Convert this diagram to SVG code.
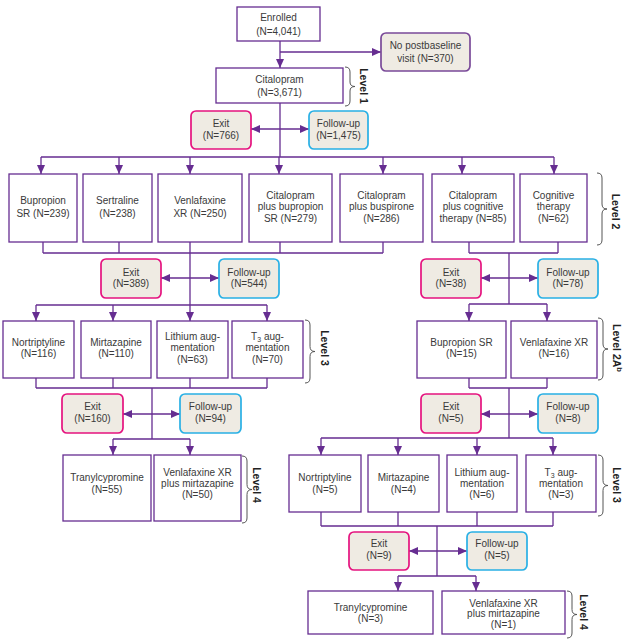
<svg xmlns="http://www.w3.org/2000/svg" width="627" height="641" viewBox="0 0 627 641">
<defs>
<style>
.b{fill:#fff;stroke:#662d91;stroke-width:1.3}
.ex{fill:#efebe3;stroke:#e5137f;stroke-width:1.7}
.fu{fill:#efebe3;stroke:#29b0e5;stroke-width:1.7}
.np{fill:#efebe3;stroke:#7a4a99;stroke-width:1.7}
.t{font-family:"Liberation Sans",Arial,sans-serif;font-size:10px;fill:#3a3a3a;text-anchor:middle}
.lv{font-family:"Liberation Sans",Arial,sans-serif;font-size:10.5px;font-weight:bold;fill:#222;text-anchor:middle}
.c{stroke:#662d91;stroke-width:1.3;fill:none}
.a{stroke:#662d91;stroke-width:1.3;fill:none;marker-end:url(#ah)}
.d{stroke:#662d91;stroke-width:1.3;fill:none;marker-end:url(#ah);marker-start:url(#ah)}
.br{stroke:#555;stroke-width:1;fill:none}
</style>
<marker id="ah" markerUnits="userSpaceOnUse" markerWidth="9" markerHeight="8" refX="9" refY="4" orient="auto-start-reverse"><path d="M0,0 L9,4 L0,8 z" fill="#662d91"/></marker>
</defs>

<g id="connectors">
<path class="a" d="M280,41 V68"/>
<path class="a" d="M280,52 H381"/>
<path class="c" d="M280,103 V157 M41,157 H554"/>
<path class="d" d="M251,129 H309"/>
<path class="a" d="M41,157 V174"/>
<path class="a" d="M119,157 V174"/>
<path class="a" d="M190,157 V174"/>
<path class="a" d="M279,157 V174"/>
<path class="a" d="M383,157 V174"/>
<path class="a" d="M462,157 V174"/>
<path class="a" d="M554,157 V174"/>
<path class="c" d="M43,242 V253 M119,242 V253 M190,242 V253 M280,242 V253 M383,242 V253 M43,253 H383 M190,253 V305"/>
<path class="d" d="M161,278 H219"/>
<path class="c" d="M36,305 H267"/>
<path class="a" d="M36,305 V321"/>
<path class="a" d="M113,305 V321"/>
<path class="a" d="M190,305 V321"/>
<path class="a" d="M267,305 V321"/>
<path class="c" d="M36,378 V388 M113,378 V388 M190,378 V388 M267,378 V388 M36,388 H267 M152,388 V439 M113,439 H190"/>
<path class="d" d="M123,414 H180"/>
<path class="a" d="M113,439 V455"/>
<path class="a" d="M190,439 V455"/>
<path class="c" d="M469,242 V253 M558,242 V253 M469,253 H558 M509,253 V304 M469,304 H547"/>
<path class="d" d="M481,278 H538"/>
<path class="a" d="M469,304 V321"/>
<path class="a" d="M547,304 V321"/>
<path class="c" d="M469,378 V388 M547,378 V388 M469,388 H547 M509,388 V438 M321,438 H553"/>
<path class="d" d="M481,414 H538"/>
<path class="a" d="M321,438 V455"/>
<path class="a" d="M398,438 V455"/>
<path class="a" d="M477,438 V455"/>
<path class="a" d="M553,438 V455"/>
<path class="c" d="M321,512 V526 M398,512 V526 M477,512 V526 M553,512 V526 M321,526 H553 M437,526 V576 M398,576 H476"/>
<path class="d" d="M409,551 H467"/>
<path class="a" d="M398,576 V591"/>
<path class="a" d="M476,576 V591"/>
</g>

<g id="enrolled"><rect class="b" x="237" y="7" width="83" height="34"/><text class="t" x="278.5" y="21">Enrolled</text><text class="t" x="278.5" y="35">(N=4,041)</text></g>
<g id="nopost"><rect class="np" x="381" y="33" width="89" height="38" rx="5"/><text class="t" x="425.5" y="48.5">No postbaseline</text><text class="t" x="425.5" y="61.5">visit (N=370)</text></g>
<g id="citalopram"><rect class="b" x="216" y="68" width="127" height="35"/><text class="t" x="279.5" y="83">Citalopram</text><text class="t" x="279.5" y="96">(N=3,671)</text></g>
<g id="exit1"><rect class="ex" x="191" y="111" width="60" height="38" rx="5"/><text class="t" x="221" y="126.5">Exit</text><text class="t" x="221" y="138.5">(N=766)</text></g>
<g id="fu1"><rect class="fu" x="309" y="111" width="59" height="38" rx="5"/><text class="t" x="338.5" y="126.5">Follow-up</text><text class="t" x="338.5" y="138.5">(N=1,475)</text></g>

<g id="l2-bupropion"><rect class="b" x="9" y="174" width="68" height="68"/><text class="t" x="43" y="204">Bupropion</text><text class="t" x="43" y="216.5">SR (N=239)</text></g>
<g id="l2-sertraline"><rect class="b" x="83" y="174" width="69" height="68"/><text class="t" x="117.5" y="204">Sertraline</text><text class="t" x="117.5" y="216.5">(N=238)</text></g>
<g id="l2-venlafaxine"><rect class="b" x="158" y="174" width="84" height="68"/><text class="t" x="200" y="204">Venlafaxine</text><text class="t" x="200" y="216.5">XR (N=250)</text></g>
<g id="l2-citbup"><rect class="b" x="249" y="174" width="83" height="68"/><text class="t" x="290.5" y="198.5">Citalopram</text><text class="t" x="290.5" y="210">plus bupropion</text><text class="t" x="290.5" y="221.5">SR (N=279)</text></g>
<g id="l2-citbus"><rect class="b" x="340" y="174" width="83" height="68"/><text class="t" x="381.5" y="198.5">Citalopram</text><text class="t" x="381.5" y="210">plus buspirone</text><text class="t" x="381.5" y="221.5">(N=286)</text></g>
<g id="l2-citcog"><rect class="b" x="432" y="174" width="82" height="68"/><text class="t" x="473" y="198.5">Citalopram</text><text class="t" x="473" y="210">plus cognitive</text><text class="t" x="473" y="221.5">therapy (N=85)</text></g>
<g id="l2-cog"><rect class="b" x="520" y="174" width="67" height="68"/><text class="t" x="553.5" y="198.5">Cognitive</text><text class="t" x="553.5" y="210">therapy</text><text class="t" x="553.5" y="221.5">(N=62)</text></g>

<g id="exit2"><rect class="ex" x="101" y="259" width="60" height="39" rx="5"/><text class="t" x="131" y="275.5">Exit</text><text class="t" x="131" y="287">(N=389)</text></g>
<g id="fu2"><rect class="fu" x="219" y="259" width="60" height="39" rx="5"/><text class="t" x="249" y="275.5">Follow-up</text><text class="t" x="249" y="287">(N=544)</text></g>
<g id="exit3"><rect class="ex" x="421" y="259" width="60" height="39" rx="5"/><text class="t" x="451" y="275.5">Exit</text><text class="t" x="451" y="287">(N=38)</text></g>
<g id="fu3"><rect class="fu" x="538" y="259" width="60" height="39" rx="5"/><text class="t" x="568" y="275.5">Follow-up</text><text class="t" x="568" y="287">(N=78)</text></g>

<g id="l3-nortriptyline"><rect class="b" x="3" y="321" width="71" height="57"/><text class="t" x="38.5" y="345.5">Nortriptyline</text><text class="t" x="38.5" y="357">(N=116)</text></g>
<g id="l3-mirtazapine"><rect class="b" x="81" y="321" width="70" height="57"/><text class="t" x="116" y="345.5">Mirtazapine</text><text class="t" x="116" y="357">(N=110)</text></g>
<g id="l3-lithium"><rect class="b" x="157" y="321" width="71" height="57"/><text class="t" x="192.5" y="339.5">Lithium aug-</text><text class="t" x="192.5" y="351">mentation</text><text class="t" x="192.5" y="362.5">(N=63)</text></g>
<g id="l3-t3"><rect class="b" x="232" y="321" width="71" height="57"/><text class="t" x="267.5" y="339.5">T<tspan font-size="7" dy="2.5">3</tspan><tspan dy="-2.5"> aug-</tspan></text><text class="t" x="267.5" y="351">mentation</text><text class="t" x="267.5" y="362.5">(N=70)</text></g>

<g id="exit4"><rect class="ex" x="62" y="394" width="61" height="39" rx="5"/><text class="t" x="92.5" y="409.5">Exit</text><text class="t" x="92.5" y="421.5">(N=160)</text></g>
<g id="fu4"><rect class="fu" x="180" y="394" width="61" height="39" rx="5"/><text class="t" x="210.5" y="409.5">Follow-up</text><text class="t" x="210.5" y="421.5">(N=94)</text></g>

<g id="l4-tranylcypromine"><rect class="b" x="63" y="455" width="88" height="66"/><text class="t" x="107" y="480.5">Tranylcypromine</text><text class="t" x="107" y="492.5">(N=55)</text></g>
<g id="l4-venmir"><rect class="b" x="154" y="455" width="87" height="66"/><text class="t" x="197.5" y="475.5">Venlafaxine XR</text><text class="t" x="197.5" y="486.5">plus mirtazapine</text><text class="t" x="197.5" y="497.5">(N=50)</text></g>

<g id="l2a-bupropion"><rect class="b" x="417" y="321" width="89" height="57"/><text class="t" x="461.5" y="345.5">Bupropion SR</text><text class="t" x="461.5" y="357">(N=15)</text></g>
<g id="l2a-venlafaxine"><rect class="b" x="511" y="321" width="86" height="57"/><text class="t" x="554" y="345.5">Venlafaxine XR</text><text class="t" x="554" y="357">(N=16)</text></g>

<g id="exit5"><rect class="ex" x="421" y="394" width="60" height="39" rx="5"/><text class="t" x="451" y="409.5">Exit</text><text class="t" x="451" y="421.5">(N=5)</text></g>
<g id="fu5"><rect class="fu" x="538" y="394" width="60" height="39" rx="5"/><text class="t" x="568" y="409.5">Follow-up</text><text class="t" x="568" y="421.5">(N=8)</text></g>

<g id="l3b-nortriptyline"><rect class="b" x="289" y="455" width="72" height="57"/><text class="t" x="325" y="480.5">Nortriptyline</text><text class="t" x="325" y="492.5">(N=5)</text></g>
<g id="l3b-mirtazapine"><rect class="b" x="368" y="455" width="71" height="57"/><text class="t" x="403.5" y="480.5">Mirtazapine</text><text class="t" x="403.5" y="492.5">(N=4)</text></g>
<g id="l3b-lithium"><rect class="b" x="447" y="455" width="70" height="57"/><text class="t" x="482" y="475.5">Lithium aug-</text><text class="t" x="482" y="486.5">mentation</text><text class="t" x="482" y="497.5">(N=6)</text></g>
<g id="l3b-t3"><rect class="b" x="526" y="455" width="70" height="57"/><text class="t" x="561" y="475.5">T<tspan font-size="7" dy="2.5">3</tspan><tspan dy="-2.5"> aug-</tspan></text><text class="t" x="561" y="486.5">mentation</text><text class="t" x="561" y="497.5">(N=3)</text></g>

<g id="exit6"><rect class="ex" x="349" y="532" width="60" height="38" rx="5"/><text class="t" x="379" y="546.5">Exit</text><text class="t" x="379" y="558.5">(N=9)</text></g>
<g id="fu6"><rect class="fu" x="467" y="532" width="60" height="38" rx="5"/><text class="t" x="497" y="546.5">Follow-up</text><text class="t" x="497" y="558.5">(N=5)</text></g>

<g id="l4b-tranylcypromine"><rect class="b" x="308" y="591" width="125" height="43"/><text class="t" x="370.5" y="610.5">Tranylcypromine</text><text class="t" x="370.5" y="621.5">(N=3)</text></g>
<g id="l4b-venmir"><rect class="b" x="442" y="591" width="123" height="43"/><text class="t" x="503.5" y="606.5">Venlafaxine XR</text><text class="t" x="503.5" y="617">plus mirtazapine</text><text class="t" x="503.5" y="627.5">(N=1)</text></g>

<g id="levels">
<path class="br" d="M345,67 Q350,67 350,72 V82 Q350,86.5 355,86.5 Q350,86.5 350,91 V101 Q350,106 345,106"/>
<text class="lv" transform="translate(360,86) rotate(90)">Level 1</text>
<path class="br" d="M597,173 Q602,173 602,178 V204 Q602,209 607,209 Q602,209 602,214 V240 Q602,245 597,245"/>
<text class="lv" transform="translate(612,211.5) rotate(90)">Level 2</text>
<path class="br" d="M305,320 Q310,320 310,325 V346.5 Q310,351.5 315,351.5 Q310,351.5 310,356.5 V378 Q310,383 305,383"/>
<text class="lv" transform="translate(321,348) rotate(90)">Level 3</text>
<path class="br" d="M598,318 Q603,318 603,323 V344 Q603,349 608,349 Q603,349 603,354 V375 Q603,380 598,380"/>
<text class="lv" transform="translate(613,348) rotate(90)">Level 2A<tspan font-size="7.5" dy="-4">b</tspan></text>
<path class="br" d="M242,456 Q247,456 247,461 V484.5 Q247,489.5 252,489.5 Q247,489.5 247,494.5 V518 Q247,523 242,523"/>
<text class="lv" transform="translate(253,485) rotate(90)">Level 4</text>
<path class="br" d="M598,455 Q603,455 603,460 V480.5 Q603,485.5 608,485.5 Q603,485.5 603,490.5 V511 Q603,516 598,516"/>
<text class="lv" transform="translate(613,485) rotate(90)">Level 3</text>
<path class="br" d="M567,591 Q572,591 572,596 V609.5 Q572,614.5 577,614.5 Q572,614.5 572,619.5 V633 Q572,638 567,638"/>
<text class="lv" transform="translate(579.5,612) rotate(90)">Level 4</text>
</g>
</svg>
